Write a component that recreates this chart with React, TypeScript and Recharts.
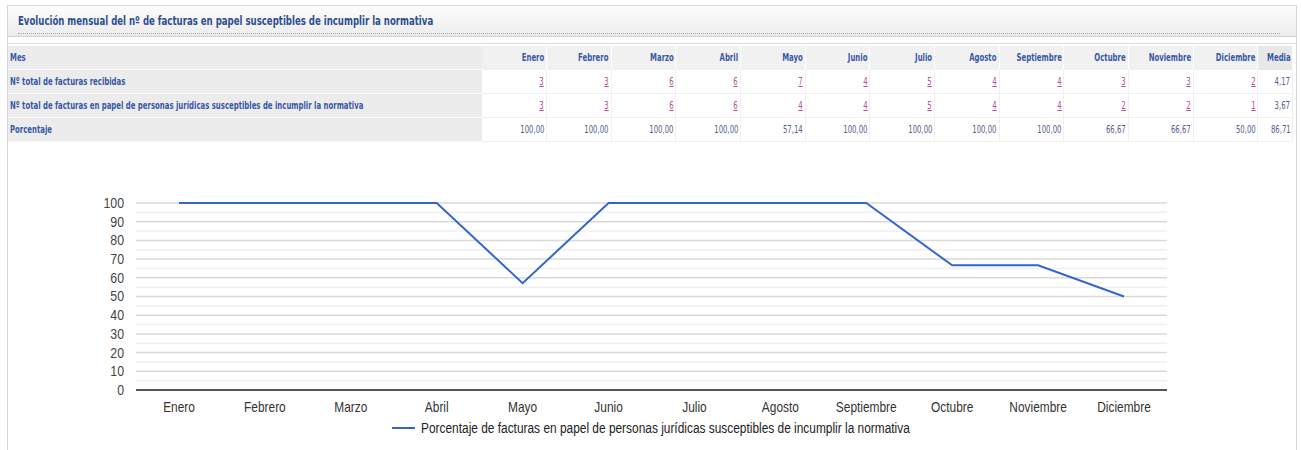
import React from "react";
import { LineChart, Line, XAxis, YAxis, CartesianGrid, ReferenceLine, Legend } from "recharts";

const TITLE = "Evolución mensual del nº de facturas en papel susceptibles de incumplir la normativa";
const months = ["Enero", "Febrero", "Marzo", "Abril", "Mayo", "Junio", "Julio", "Agosto", "Septiembre", "Octubre", "Noviembre", "Diciembre"];
const rowLabels = ["Nº total de facturas recibidas", "Nº total de facturas en papel de personas jurídicas susceptibles de incumplir la normativa", "Porcentaje"];
const recibidas = [3, 3, 6, 6, 7, 4, 5, 4, 4, 3, 3, 2];
const susceptibles = [3, 3, 6, 6, 4, 4, 5, 4, 4, 2, 2, 1];
const porcentaje = [100, 100, 100, 100, 57.14, 100, 100, 100, 100, 66.67, 66.67, 50];
const media = ["4,17", "3,67", "86,71"];
const majorTicks = [0, 10, 20, 30, 40, 50, 60, 70, 80, 90, 100];
const minorTicks = [5, 15, 25, 35, 45, 55, 65, 75, 85, 95];
const SERIES_NAME = "Porcentaje de facturas en papel de personas jurídicas susceptibles de incumplir la normativa";

const chartData = months.map((m, i) => ({ mes: m, pct: porcentaje[i] }));

const tableFont = '"DejaVu Sans Condensed", "DejaVu Sans", sans-serif';
const chartFont = '"Liberation Sans", Arial, sans-serif';
const TK = 0.77; // horizontal squeeze of table text
const CK = 0.85; // horizontal squeeze of chart text

const fmt = (v: number) => v.toFixed(2).replace(".", ",");

function Sq({ k, origin, children }: { k: number; origin: string; children: React.ReactNode }) {
  return (
    <span style={{ display: "inline-block", transform: `scaleX(${k})`, transformOrigin: origin, whiteSpace: "nowrap" }}>
      {children}
    </span>
  );
}

const labelCell: React.CSSProperties = {
  background: "#ececec",
  color: "#3a58a6",
  fontWeight: "bold",
  textAlign: "left",
  padding: "0 2px",
  height: 23,
  borderBottom: "1px solid #fafafa",
  whiteSpace: "nowrap",
  overflow: "hidden",
};
const headCell: React.CSSProperties = {
  background: "#f1f1f1",
  color: "#3a58a6",
  fontWeight: "bold",
  textAlign: "right",
  padding: "0 2px",
  height: 23,
  whiteSpace: "nowrap",
  borderRight: "1px solid #ffffff",
};
const dataCell: React.CSSProperties = {
  background: "#ffffff",
  color: "#55608a",
  textAlign: "right",
  padding: "0 2px",
  height: 23,
  borderRight: "1px solid #f0f0f0",
  borderBottom: "1px solid #f0f0f0",
  whiteSpace: "nowrap",
};
const linkStyle: React.CSSProperties = { color: "#b4509a", textDecoration: "underline" };

function XTick(props: any) {
  const { x, y, payload } = props;
  return (
    <g transform={`translate(${x},${y})`}>
      <text transform={`scale(${CK},1)`} textAnchor="middle" dy="0.71em" fill="#333" fontSize={14} fontFamily={chartFont}>
        {payload.value}
      </text>
    </g>
  );
}

function YTick(props: any) {
  const { x, y, payload } = props;
  return (
    <g transform={`translate(${x},${y})`}>
      <text transform={`scale(${CK + 0.03},1)`} textAnchor="end" dy="0.355em" fill="#444" fontSize={14} fontFamily={chartFont}>
        {payload.value}
      </text>
    </g>
  );
}

function LegendContent() {
  return (
    <div style={{ display: "flex", justifyContent: "center", alignItems: "center", fontFamily: chartFont, fontSize: 14, color: "#222" }}>
      <span style={{ display: "inline-block", width: 23, height: 2, background: "#3366cc", marginRight: 6 }} />
      <span style={{ display: "inline-block", width: 488, overflow: "visible" }}>
        <Sq k={CK} origin="left">{SERIES_NAME}</Sq>
      </span>
    </div>
  );
}

export default function App() {
  return (
    <div style={{ position: "relative", width: 1301, height: 450, background: "#fff", overflow: "hidden" }}>
      <style>{`body{margin:0}`}</style>
      <div style={{ position: "absolute", left: 7, top: 5, width: 1290, height: 450, border: "1px solid #d6d6d6", boxSizing: "border-box" }} />
      {/* title bar */}
      <div
        style={{
          position: "absolute",
          left: 8,
          top: 6,
          width: 1288,
          height: 30,
          background: "linear-gradient(#fdfdfd, #ececec)",
          borderBottom: "1px solid #d0d0d0",
        }}
      >
        <div style={{ position: "absolute", left: 10, top: 7, fontFamily: tableFont, fontSize: 13, fontWeight: "bold", color: "#2e4f92" }}>
          <Sq k={0.733} origin="left">{TITLE}</Sq>
        </div>
        <div style={{ position: "absolute", left: 10, right: 16, top: 27, borderTop: "1px dotted #a8a8a8" }} />
      </div>
      <div style={{ position: "absolute", left: 8, top: 43, width: 1288, height: 1, background: "#e2e2e2" }} />
      {/* table */}
      <table
        style={{
          position: "absolute",
          left: 8,
          top: 46,
          width: 1285,
          borderCollapse: "collapse",
          tableLayout: "fixed",
          fontFamily: tableFont,
          fontSize: 10,
          borderBottom: "1px solid #d6d6d6",
        }}
      >
        <colgroup>
          <col style={{ width: 474 }} />
          {months.map((m) => (
            <col key={m} style={{ width: 64.67 }} />
          ))}
          <col style={{ width: 35 }} />
        </colgroup>
        <tbody>
          <tr>
            <td style={labelCell}><Sq k={TK} origin="left">Mes</Sq></td>
            {months.map((m) => (
              <td key={m} style={headCell}><Sq k={TK} origin="right">{m}</Sq></td>
            ))}
            <td style={{ ...headCell, background: "#e8e8e8" }}><Sq k={TK} origin="right">Media</Sq></td>
          </tr>
          <tr>
            <td style={labelCell}><Sq k={TK} origin="left">{rowLabels[0]}</Sq></td>
            {recibidas.map((v, i) => (
              <td key={i} style={dataCell}><Sq k={TK} origin="right"><span style={linkStyle}>{v}</span></Sq></td>
            ))}
            <td style={dataCell}><Sq k={TK} origin="right">{media[0]}</Sq></td>
          </tr>
          <tr>
            <td style={labelCell}><Sq k={TK} origin="left">{rowLabels[1]}</Sq></td>
            {susceptibles.map((v, i) => (
              <td key={i} style={dataCell}><Sq k={TK} origin="right"><span style={linkStyle}>{v}</span></Sq></td>
            ))}
            <td style={dataCell}><Sq k={TK} origin="right">{media[1]}</Sq></td>
          </tr>
          <tr>
            <td style={labelCell}><Sq k={TK} origin="left">{rowLabels[2]}</Sq></td>
            {porcentaje.map((v, i) => (
              <td key={i} style={dataCell}><Sq k={TK} origin="right">{fmt(v)}</Sq></td>
            ))}
            <td style={dataCell}><Sq k={TK} origin="right">{media[2]}</Sq></td>
          </tr>
        </tbody>
      </table>
      {/* chart */}
      <div style={{ position: "absolute", left: 0, top: 180 }}>
        <LineChart width={1301} height={270} data={chartData} margin={{ top: 23, right: 134, left: 76, bottom: 3 }}>
          <CartesianGrid horizontal vertical={false} stroke="#dadada" strokeWidth={1.5} />
          {minorTicks.map((t) => (
            <ReferenceLine key={t} y={t} stroke="#f0f0f0" strokeWidth={1.5} />
          ))}
          <XAxis
            dataKey="mes"
            tickLine={false}
            axisLine={{ stroke: "#555", strokeWidth: 2 }}
            tickSize={10}
            tickMargin={2}
            height={30}
            padding={{ left: 43, right: 43 }}
            tick={<XTick />}
            interval={0}
          />
          <YAxis
            domain={[0, 100]}
            ticks={majorTicks}
            tickLine={false}
            axisLine={false}
            width={60}
            tickSize={10}
            tickMargin={2}
            interval={0}
            tick={<YTick />}
          />
          <Legend verticalAlign="bottom" height={27} wrapperStyle={{ left: 0, width: 1301 }} content={<LegendContent />} />
          <Line type="linear" dataKey="pct" name={SERIES_NAME} stroke="#3366cc" strokeWidth={2} dot={false} activeDot={false} isAnimationActive={false} />
        </LineChart>
      </div>
    </div>
  );
}
